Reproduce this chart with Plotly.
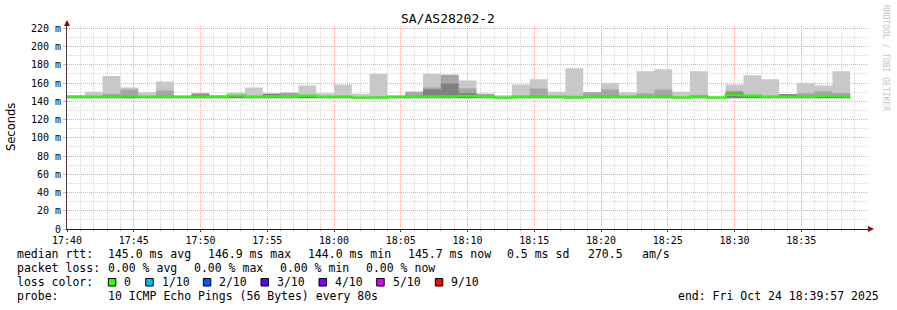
import plotly.graph_objects as go
import pandas as pd

# ---------------- data ----------------
title = "SA/AS28202-2"
start_time = "2025-10-24 17:40:00"
step_seconds = 80

# median rtt per 80 s step (ms)
median = [145.2, 145.2, 145.2, 145.5, 145.2, 145.2, 145.0, 145.2, 145.0, 146.3,
          145.0, 145.3, 145.0, 146.2, 145.0, 145.2, 144.0, 144.0, 145.2, 145.2,
          145.0, 145.3, 146.0, 145.0, 144.0, 145.0, 145.0, 145.0, 144.0, 145.0,
          145.0, 145.0, 145.0, 145.0, 144.0, 145.0, 144.0, 146.9, 146.2, 145.0,
          145.0, 145.0, 146.0, 145.7]

# outer smoke (lightest): min / max ping
smoke_outer_lo = [143.0] * 44
smoke_outer_hi = [146.5, 150.5, 167.7, 155.0, 149.8, 161.7, 146.0, 148.7, 146.8, 149.4,
                  155.0, 148.3, 149.4, 157.2, 148.7, 158.3, 148.3, 170.0, 146.0, 151.0,
                  170.0, 169.2, 162.8, 148.3, 146.5, 158.3, 164.0, 150.5, 176.3, 150.0,
                  160.0, 149.8, 172.9, 175.2, 150.5, 172.9, 145.5, 158.3, 168.4, 164.0,
                  147.6, 160.0, 157.2, 172.9]

# middle smoke
smoke_mid_lo = [143.3] * 44
smoke_mid_hi = [146.0, 146.0, 148.3, 152.8, 146.0, 151.7, 146.0, 148.7, 146.0, 146.5,
                146.0, 148.3, 149.4, 146.5, 146.0, 146.0, 145.0, 145.5, 146.0, 150.0,
                155.0, 169.2, 154.3, 148.3, 145.0, 146.0, 154.0, 146.0, 146.0, 150.0,
                152.8, 146.0, 148.7, 152.8, 145.0, 147.2, 145.0, 151.6, 147.0, 146.0,
                147.6, 148.7, 151.0, 149.0]

# inner smoke (darkest)
smoke_in_lo = [143.6] * 44
smoke_in_hi = [145.5, 145.5, 146.0, 146.0, 145.5, 146.0, 145.5, 147.5, 145.5, 145.5,
               145.5, 148.3, 146.0, 145.5, 145.5, 145.5, 144.5, 144.5, 145.5, 146.0,
               152.8, 159.5, 149.0, 146.0, 144.5, 145.5, 146.0, 145.5, 145.0, 146.0,
               146.0, 145.5, 146.0, 146.0, 145.0, 145.5, 144.5, 149.5, 146.5, 145.5,
               147.6, 146.0, 147.0, 146.5]

y_tick_vals = [0, 20, 40, 60, 80, 100, 120, 140, 160, 180, 200, 220]
y_tick_text = ["0", "20 m", "40 m", "60 m", "80 m", "100 m", "120 m", "140 m",
               "160 m", "180 m", "200 m", "220 m"]
x_tick_text = ["17:40", "17:45", "17:50", "17:55", "18:00", "18:05", "18:10",
               "18:15", "18:20", "18:25", "18:30", "18:35"]

loss_labels = ["0", "1/10", "2/10", "3/10", "4/10", "5/10", "9/10"]
loss_colors = ["#26ff00", "#00b8ff", "#0059ff", "#5e00ff", "#7e00ff", "#dd00ff", "#ff0000"]

median_stats = ["145.0 ms avg", "146.9 ms max", "144.0 ms min", "145.7 ms now",
                "0.5 ms sd", "270.5", "am/s"]
loss_stats = ["0.00 % avg", "0.00 % max", "0.00 % min", "0.00 % now"]
probe_text = "10 ICMP Echo Pings (56 Bytes) every 80s"
end_text = "end: Fri Oct 24 18:39:57 2025"

# ---------------- figure ----------------
W, H = 897, 310
L, R, T, B = 67, 29, 26, 81
PW, PH = W - L - R, H - T - B


def px(x):
    return (x - L) / PW


def py(y):
    return (H - B - y) / PH


n = len(median)
times = pd.date_range(start_time, periods=n + 1, freq=f"{step_seconds}s")


def close(v):
    return list(v) + [v[-1]]


fig = go.Figure()
bands = [(smoke_outer_lo, smoke_outer_hi, "#c8c8c8"),
         (smoke_mid_lo, smoke_mid_hi, "#a6a6a6"),
         (smoke_in_lo, smoke_in_hi, "#808080")]
for lo, hi, col in bands:
    fig.add_trace(go.Scatter(x=times, y=close(lo), mode="lines", line=dict(width=0, shape="hv"),
                             hoverinfo="skip", showlegend=False))
    fig.add_trace(go.Scatter(x=times, y=close(hi), mode="lines", line=dict(width=0, shape="hv"),
                             fill="tonexty", fillcolor=col, hoverinfo="skip", showlegend=False))

fig.add_trace(go.Scatter(x=times, y=close(median), mode="lines",
                         line=dict(width=2.2, shape="hv", color=loss_colors[0]),
                         hoverinfo="skip", showlegend=False))

t0 = pd.Timestamp(start_time)
x_tick_vals = [t0 + pd.Timedelta(minutes=5 * i) for i in range(len(x_tick_text))]

mono = "DejaVu Sans Mono"
major_grid = "#f2a6a6"
minor_grid = "#d6d6d6"

fig.update_xaxes(type="date", range=[t0, t0 + pd.Timedelta(minutes=60)],
                 tickvals=x_tick_vals, ticktext=x_tick_text,
                 showgrid=True, gridcolor=major_grid, griddash="1px,1px", gridwidth=1,
                 minor=dict(dtick=60000, tick0=t0, showgrid=True, gridcolor=minor_grid,
                            griddash="1px,1px", ticks="outside", ticklen=1, tickcolor="#999999"),
                 ticks="outside", ticklen=2, tickcolor="#444444",
                 showline=True, linecolor="#222222", linewidth=1,
                 tickfont=dict(family=mono, size=10, color="#000000"),
                 zeroline=False, fixedrange=True)
fig.update_yaxes(range=[0, 222.5], tickvals=y_tick_vals, ticktext=y_tick_text,
                 showgrid=True, gridcolor=major_grid, griddash="1px,1px", gridwidth=1,
                 minor=dict(dtick=10, showgrid=True, gridcolor=minor_grid, griddash="1px,1px"),
                 ticks="outside", ticklen=3, tickcolor="#f2a6a6",
                 showline=True, linecolor="#4a3a3a", linewidth=1,
                 tickfont=dict(family=mono, size=10, color="#000000"),
                 zeroline=False, fixedrange=True)

shapes = []
# arrowheads
shapes.append(dict(type="path", xref="paper", yref="paper",
                   path=f"M {px(64)},{py(26)} L {px(70)},{py(26)} L {px(67)},{py(20)} Z",
                   fillcolor="#7a1010", line=dict(width=0)))
shapes.append(dict(type="path", xref="paper", yref="paper",
                   path=f"M {px(868)},{py(226)} L {px(868)},{py(232)} L {px(874)},{py(229)} Z",
                   fillcolor="#7a1010", line=dict(width=0)))

annotations = []


def text(x, y, s, size=11.5, color="#000000", xanchor="left", family=mono, angle=0):
    annotations.append(dict(x=px(x), y=py(y), xref="paper", yref="paper", text=s,
                            showarrow=False, xanchor=xanchor, yanchor="middle",
                            font=dict(family=family, size=size, color=color),
                            textangle=angle, borderpad=0))


text(448, 19, title, size=13, xanchor="center")
text(11, 127, "Seconds", size=11.5, xanchor="center", family="DejaVu Sans", angle=-90)
text(886, 58, "RRDTOOL / TOBI OETIKER", size=8, color="#c4c4c4", xanchor="center", angle=90)

row_y = [254.3, 268.3, 282.3, 296.3]
text(16, row_y[0], "median rtt:")
for xpos, s in zip([107.3, 207.3, 306.7, 407.3, 506, 587.3, 640.7], median_stats):
    text(xpos, row_y[0], s)
text(16, row_y[1], "packet loss:")
for xpos, s in zip([107.3, 193.3, 279.3, 365.3], loss_stats):
    text(xpos, row_y[1], s)
text(16, row_y[2], "loss color:")
sq_x = [108.3, 145.7, 203.3, 261.0, 319.0, 376.7, 435.3]
for xs, lab, col in zip(sq_x, loss_labels, loss_colors):
    shapes.append(dict(type="rect", xref="paper", yref="paper",
                       x0=px(xs), x1=px(xs + 7.5), y0=py(286), y1=py(278.5),
                       fillcolor=col, line=dict(color="#000000", width=1)))
    text(xs + 15, row_y[2], lab)
text(16, row_y[3], "probe:")
text(107.3, row_y[3], probe_text)
text(880, row_y[3], end_text, xanchor="right")

fig.update_layout(width=W, height=H, margin=dict(l=L, r=R, t=T, b=B, pad=0),
                  paper_bgcolor="#ffffff", plot_bgcolor="#ffffff",
                  shapes=shapes, annotations=annotations, showlegend=False)

fig.write_html("out.html", config={"displayModeBar": False})
